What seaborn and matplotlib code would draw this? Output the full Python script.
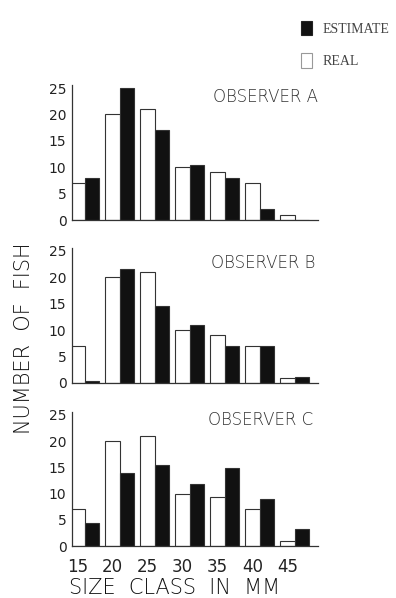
import pandas as pd
import matplotlib.pyplot as plt
import matplotlib.patches as mpatches
import seaborn as sns

# data
size_classes = ["15", "20", "25", "30", "35", "40", "45"]
real_a = [7, 20, 21, 10, 9, 7, 1]
est_a = [8, 25, 17, 10.5, 8, 2, 0]
real_b = [7, 20, 21, 10, 9, 7, 1]
est_b = [0.3, 21.5, 14.5, 11, 7, 7, 1.2]
real_c = [7, 20, 21, 10, 9.3, 7, 1]
est_c = [4.3, 14, 15.5, 11.8, 14.8, 9, 3.3]
observers = ["OBSERVER A", "OBSERVER B", "OBSERVER C"]
y_ticks = [0, 5, 10, 15, 20, 25]


def long_df(real, est):
    d1 = pd.DataFrame({"size": size_classes, "n": real, "type": "REAL"})
    d2 = pd.DataFrame({"size": size_classes, "n": est, "type": "ESTIMATE"})
    return pd.concat([d1, d2], ignore_index=True)


panels = [long_df(real_a, est_a), long_df(real_b, est_b), long_df(real_c, est_c)]

sns.set_style("white")
plt.rcParams["font.family"] = ["DejaVu Sans"]

W, H = 396, 598
fig = plt.figure(figsize=(W / 100, H / 100), dpi=100)

# axes placement in pixels: (zero line y, 25 line y)
rows = [(220, 88), (383, 251), (546, 415)]
left_px, right_px = 72, 318
ymax = 25.5
axes = []
for (y0, y25) in rows:
    h = (y0 - y25) * ymax / 25
    ax = fig.add_axes([left_px / W, (H - y0) / H, (right_px - left_px) / W, h / H])
    axes.append(ax)

# where the observer name sits (axes fraction)
name_pos = [(1.0, 0.914), (0.988, 0.89), (0.98, 0.943)]

for ax, df, name, (tx, ty) in zip(axes, panels, observers, name_pos):
    sns.barplot(data=df, x="size", y="n", hue="type", hue_order=["REAL", "ESTIMATE"],
                palette={"REAL": "white", "ESTIMATE": "#111111"}, edgecolor="#333333",
                linewidth=0.8, width=0.82, ax=ax, legend=False, saturation=1)
    ax.set_ylim(0, ymax)
    ax.set_xlim(-0.36, 6.67)
    ax.set_yticks(y_ticks)
    ax.tick_params(axis="y", direction="out", length=3, width=0.8, labelsize=10,
                   pad=1, colors="#222222")
    ax.set_xlabel("")
    ax.set_ylabel("")
    sns.despine(ax=ax)
    for s in ["left", "bottom"]:
        ax.spines[s].set_linewidth(0.9)
        ax.spines[s].set_color("#333333")
    ax.text(tx, ty, name, transform=ax.transAxes, ha="right", va="center",
            fontsize=12, color="#333333", fontweight="light")

for ax in axes[:2]:
    ax.set_xticks([])
axes[2].set_xticks([i - 0.2 for i in range(len(size_classes))])
axes[2].set_xticklabels(size_classes)
axes[2].tick_params(axis="x", length=0, labelsize=12, pad=9, colors="#222222")

fig.text(175 / W, 1 - 588 / H, "SIZE  CLASS  IN  MM", ha="center", va="center",
         fontsize=15, color="#111111", fontweight="light")
fig.text(24 / W, 1 - 338 / H, "NUMBER  OF  FISH", ha="center", va="center",
         rotation=90, fontsize=15, color="#111111", fontweight="light")

handles = [mpatches.Patch(facecolor="#111111", edgecolor="#222222", linewidth=0.8),
           mpatches.Patch(facecolor="white", edgecolor="#999999", linewidth=0.8)]
fig.legend(handles, ["ESTIMATE", "REAL"], loc="upper left",
           bbox_to_anchor=(288 / W, 1 - 8 / H), frameon=False,
           handlelength=0.85, handleheight=1.25, handletextpad=0.75, labelspacing=1.25,
           prop={"family": "Liberation Serif", "size": 10}, labelcolor="#444444")

fig.savefig("out.png", dpi=100, facecolor="white")
